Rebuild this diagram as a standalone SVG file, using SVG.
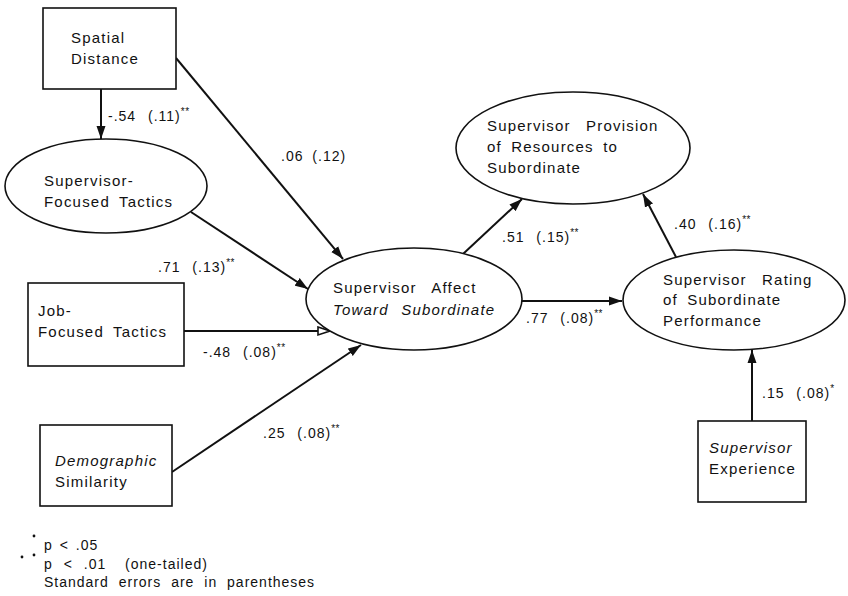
<svg xmlns="http://www.w3.org/2000/svg" width="848" height="596" viewBox="0 0 848 596">
<style>
.t{font-family:"Liberation Sans",Arial,sans-serif;font-size:15px;letter-spacing:1.2px;word-spacing:4px;fill:#111}
.w{word-spacing:10px}
.lb{font-family:"Liberation Sans",Arial,sans-serif;font-size:14px;letter-spacing:1px;word-spacing:7px;fill:#111}
.st{font-size:10px;letter-spacing:0.5px}
.i{font-style:italic}
.box{fill:#fff;stroke:#111;stroke-width:1.6}
.ell{fill:#fff;stroke:#111;stroke-width:1.6}
.e{stroke:#111;stroke-width:2;fill:none;marker-end:url(#ah)}
.eo{stroke:#111;stroke-width:2;fill:none;marker-end:url(#aho)}
</style>
<defs>
<marker id="ah" markerUnits="userSpaceOnUse" markerWidth="14" markerHeight="10" refX="13" refY="5" orient="auto">
<path d="M0,0.5 L13,5 L0,9.5 Z" fill="#111"/>
</marker>
<marker id="aho" markerUnits="userSpaceOnUse" markerWidth="15" markerHeight="11" refX="13" refY="5.5" orient="auto">
<path d="M1,1.5 L13,5.5 L1,9.5 Z" fill="#fff" stroke="#111" stroke-width="1.6"/>
</marker>
</defs>
<rect width="848" height="596" fill="#fff"/>

<g id="connectors">
<line class="e" x1="101" y1="89" x2="101" y2="139"/>
<line class="e" x1="176" y1="58" x2="343" y2="259"/>
<line class="e" x1="191" y1="212" x2="308" y2="289"/>
<line class="eo" x1="184" y1="331" x2="330" y2="331"/>
<line class="e" x1="172" y1="472" x2="361" y2="345"/>
<line class="e" x1="463" y1="254" x2="522" y2="199"/>
<line class="e" x1="522" y1="301" x2="622" y2="301"/>
<line class="e" x1="676" y1="257" x2="643" y2="194"/>
<line class="e" x1="752" y1="421" x2="752" y2="350"/>
</g>

<g id="edge-labels">
<text class="lb" x="108" y="121">-.54 (.11)<tspan class="st" dy="-6">**</tspan></text>
<text class="lb" x="281" y="161" style="word-spacing:4px">.06 (.12)</text>
<text class="lb" x="158" y="272">.71 (.13)<tspan class="st" dy="-6">**</tspan></text>
<text class="lb" x="203" y="357">-.48 (.08)<tspan class="st" dy="-6">**</tspan></text>
<text class="lb" x="263" y="438">.25 (.08)<tspan class="st" dy="-6">**</tspan></text>
<text class="lb" x="502" y="242">.51 (.15)<tspan class="st" dy="-6">**</tspan></text>
<text class="lb" x="526" y="323">.77 (.08)<tspan class="st" dy="-6">**</tspan></text>
<text class="lb" x="674" y="229">.40 (.16)<tspan class="st" dy="-6">**</tspan></text>
<text class="lb" x="762" y="398">.15 (.08)<tspan class="st" dy="-6">*</tspan></text>
</g>

<g id="spatial-distance">
<rect class="box" x="43" y="8" width="133" height="81"/>
<text class="t" x="71" y="43">Spatial</text>
<text class="t" x="71" y="64">Distance</text>
</g>

<g id="supervisor-focused-tactics">
<ellipse class="ell" cx="106" cy="186" rx="101" ry="47"/>
<text class="t" x="44" y="186">Supervisor-</text>
<text class="t" x="44" y="207">Focused Tactics</text>
</g>

<g id="job-focused-tactics">
<rect class="box" x="28" y="283" width="156" height="83"/>
<text class="t" x="38" y="316">Job-</text>
<text class="t" x="38" y="337">Focused Tactics</text>
</g>

<g id="demographic-similarity">
<rect class="box" x="40" y="425" width="132" height="81"/>
<text class="t i" x="55" y="466">Demographic</text>
<text class="t" x="55" y="487">Similarity</text>
</g>

<g id="supervisor-affect">
<ellipse class="ell" cx="414" cy="299" rx="108" ry="51"/>
<text class="t w" x="333" y="293">Supervisor Affect</text>
<text class="t i" x="333" y="315" style="word-spacing:7px">Toward Subordinate</text>
</g>

<g id="supervisor-provision">
<ellipse class="ell" cx="573" cy="148" rx="117" ry="56"/>
<text class="t w" x="487" y="131">Supervisor Provision</text>
<text class="t" x="487" y="152">of Resources to</text>
<text class="t" x="487" y="173">Subordinate</text>
</g>

<g id="supervisor-rating">
<ellipse class="ell" cx="734" cy="300" rx="111" ry="50"/>
<text class="t w" x="663" y="285">Supervisor Rating</text>
<text class="t" x="663" y="305">of Subordinate</text>
<text class="t" x="663" y="326">Performance</text>
</g>

<g id="supervisor-experience">
<rect class="box" x="698" y="421" width="108" height="81"/>
<text class="t i" x="709" y="453">Supervisor</text>
<text class="t" x="709" y="474">Experience</text>
</g>

<g id="legend">
<circle cx="34" cy="536" r="1.4" fill="#111"/>
<circle cx="22" cy="557" r="1.4" fill="#111"/>
<circle cx="34" cy="555" r="1.4" fill="#111"/>
<text class="lb" x="44" y="550" style="word-spacing:2px">p &lt; .05</text>
<text class="lb" x="44" y="569" style="word-spacing:6px">p &lt; .01 <tspan dx="8">(one-tailed)</tspan></text>
<text class="lb" x="44" y="587" style="word-spacing:5px">Standard errors are in parentheses</text>
</g>
</svg>
